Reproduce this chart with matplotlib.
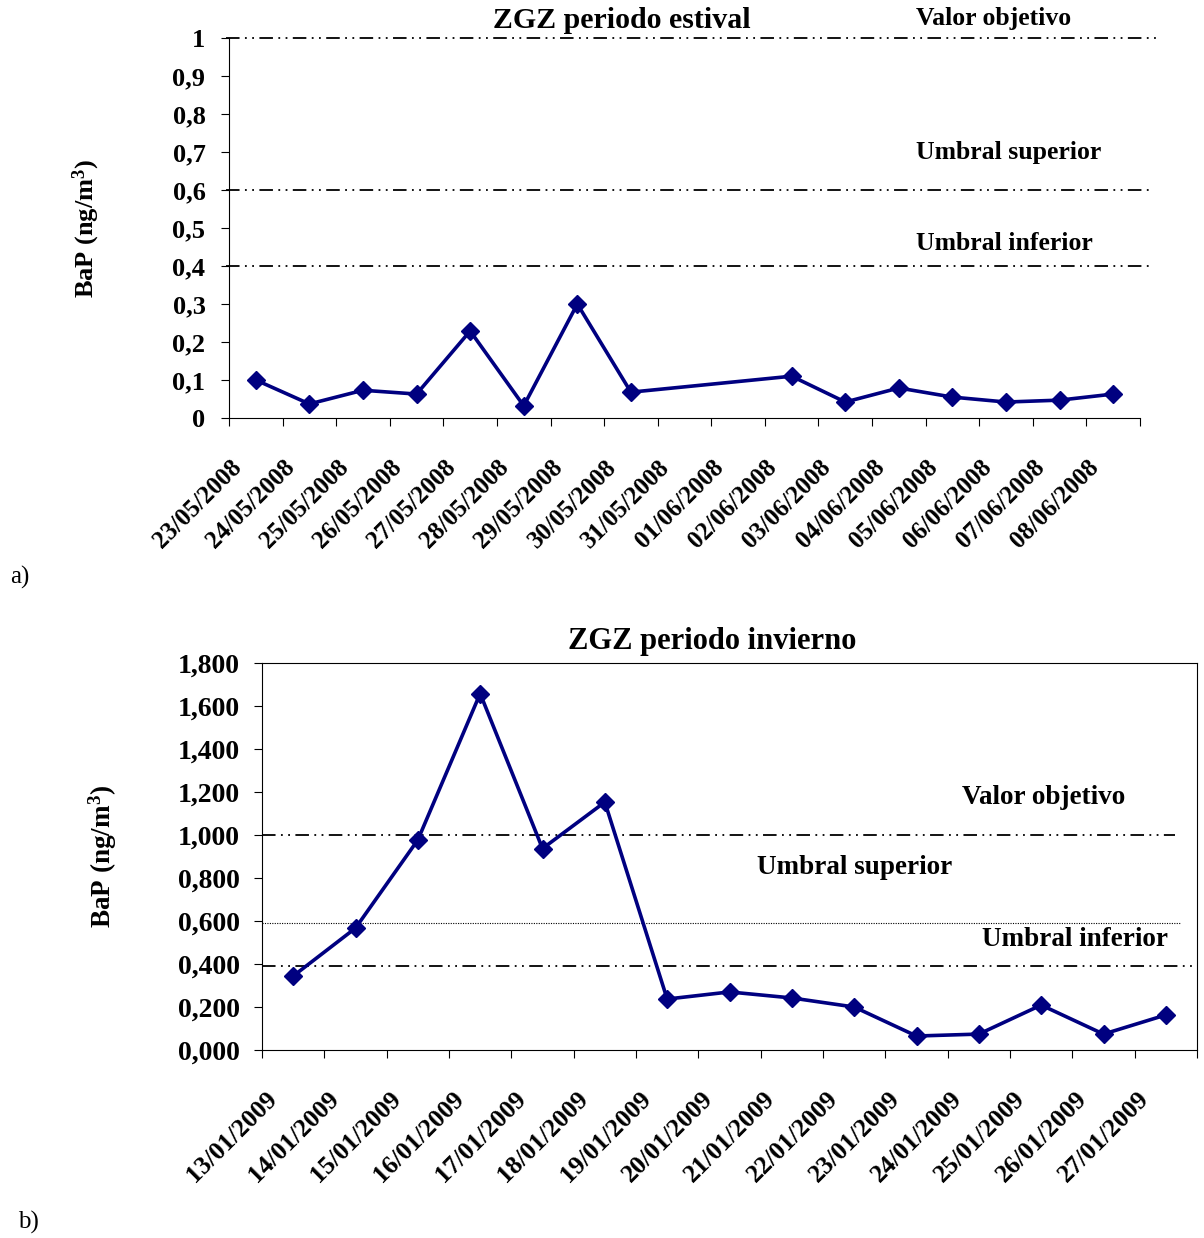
import numpy as np
import matplotlib.pyplot as plt
from matplotlib.transforms import ScaledTranslation

plt.rcParams['font.family'] = ['Liberation Serif', 'DejaVu Serif']
plt.rcParams['font.weight'] = 'bold'
plt.rcParams['mathtext.fontset'] = 'custom'
plt.rcParams['mathtext.rm'] = 'Liberation Serif:bold'
plt.rcParams['mathtext.it'] = 'Liberation Serif:bold'
plt.rcParams['mathtext.bf'] = 'Liberation Serif:bold'

# datos periodo estival
fechas_verano = ['23/05/2008', '24/05/2008', '25/05/2008', '26/05/2008', '27/05/2008',
                 '28/05/2008', '29/05/2008', '30/05/2008', '31/05/2008', '01/06/2008',
                 '02/06/2008', '03/06/2008', '04/06/2008', '05/06/2008', '06/06/2008',
                 '07/06/2008', '08/06/2008']
bap_verano = [0.100, 0.037, 0.073, 0.063, 0.229, 0.032, 0.300, 0.068, np.nan, np.nan,
              0.110, 0.042, 0.079, 0.055, 0.042, 0.047, 0.063]
ticks_verano = [0, 0.1, 0.2, 0.3, 0.4, 0.5, 0.6, 0.7, 0.8, 0.9, 1.0]
limites_verano = [1.0, 0.6, 0.4]

# datos periodo invierno
fechas_invierno = ['13/01/2009', '14/01/2009', '15/01/2009', '16/01/2009', '17/01/2009',
                   '18/01/2009', '19/01/2009', '20/01/2009', '21/01/2009', '22/01/2009',
                   '23/01/2009', '24/01/2009', '25/01/2009', '26/01/2009', '27/01/2009']
bap_invierno = [0.344, 0.567, 0.977, 1.658, 0.937, 1.153, 0.237, 0.270, 0.242, 0.200,
                0.065, 0.074, 0.209, 0.074, 0.163]
ticks_invierno = [0, 0.2, 0.4, 0.6, 0.8, 1.0, 1.2, 1.4, 1.6, 1.8]
limites_invierno = [1.0, 0.59, 0.39]

W, H = 1204, 1238
fig = plt.figure(figsize=(W / 100, H / 100), dpi=100)


def caja(x0, y0, x1, y1):
    return [x0 / W, 1 - y1 / H, (x1 - x0) / W, (y1 - y0) / H]


def texto(x, y, s, **kw):
    fig.text(x / W, 1 - y / H, s, **kw)


def serie(ax, fechas, valores, tam_fecha, dx):
    x = np.arange(len(fechas))
    v = np.array(valores, dtype=float)
    ok = ~np.isnan(v)
    ax.plot(x[ok], v[ok], color='#000080', lw=2.6, marker='D', ms=9,
            zorder=5, clip_on=False)
    ax.set_xlim(-0.5, len(fechas) - 0.5)
    ax.set_xticks(np.arange(len(fechas) + 1) - 0.5)
    ax.set_xticklabels([])
    ax.set_xticks(x, minor=True)
    ax.set_xticklabels(fechas, minor=True, rotation=45, ha='right', fontsize=tam_fecha)
    ax.tick_params(axis='x', which='minor', length=0, pad=27)
    ax.tick_params(axis='both', which='major', direction='out', length=6, width=0.8)
    for lab in ax.get_xticklabels(minor=True):
        lab.set_transform(lab.get_transform() +
                          ScaledTranslation(-dx / 100, 0, fig.dpi_scale_trans))
    for s in ax.spines.values():
        s.set_linewidth(0.8)


raya = (0, (7.5, 3, 1, 3, 1, 3))

# a) verano
ax1 = fig.add_axes(caja(229, 38, 1140, 418))
serie(ax1, fechas_verano, bap_verano, 18, 10)
ax1.set_ylim(0, 1)
ax1.set_yticks(ticks_verano)
ax1.set_yticklabels([f'{t:g}'.replace('.', ',') for t in ticks_verano], fontsize=19)
ax1.tick_params(axis='y', pad=11)
ax1.spines['top'].set_visible(False)
ax1.spines['right'].set_visible(False)
for y, xmax in zip(limites_verano, [1.022, 1.013, 1.013]):
    ax1.axhline(y, xmin=-0.003, xmax=xmax, color='black', lw=1.3, ls=raya, clip_on=False)

texto(622, 20, 'ZGZ periodo estival', ha='center', va='center', fontsize=21.5)
texto(916, 18, 'Valor objetivo', ha='left', va='center', fontsize=18.5)
texto(916, 153, 'Umbral superior', ha='left', va='center', fontsize=18.5)
texto(916, 243, 'Umbral inferior', ha='left', va='center', fontsize=18.5)
texto(86, 228, 'BaP (ng/m$^3$)', rotation=90, ha='center', va='center', fontsize=19)
texto(10, 577, 'a)', ha='left', va='center', fontsize=18, fontweight='normal')

# b) invierno
ax2 = fig.add_axes(caja(262, 663, 1197, 1050))
serie(ax2, fechas_invierno, bap_invierno, 18.5, 12)
ax2.set_ylim(0, 1.8)
ax2.set_yticks(ticks_invierno)
ax2.set_yticklabels([f'{t:.3f}'.replace('.', ',') for t in ticks_invierno], fontsize=20)
ax2.tick_params(axis='y', pad=10)
ax2.axhline(limites_invierno[0], xmin=0, xmax=0.976, color='black', lw=1.3, ls=raya)
ax2.axhline(limites_invierno[1], xmin=0, xmax=0.982, color='black', lw=0.8, ls=(0, (1, 1.2)))
ax2.axhline(limites_invierno[2], xmin=0, xmax=1.0, color='black', lw=1.3, ls=raya)

texto(712, 642, 'ZGZ periodo invierno', ha='center', va='center', fontsize=22)
texto(962, 797, 'Valor objetivo', ha='left', va='center', fontsize=19.5)
texto(757, 868, 'Umbral superior', ha='left', va='center', fontsize=19.5)
texto(982, 940, 'Umbral inferior', ha='left', va='center', fontsize=19.5)
texto(103, 856, 'BaP (ng/m$^3$)', rotation=90, ha='center', va='center', fontsize=19.5)
texto(18, 1222, 'b)', ha='left', va='center', fontsize=18, fontweight='normal')

fig.savefig('out.png', dpi=100)
